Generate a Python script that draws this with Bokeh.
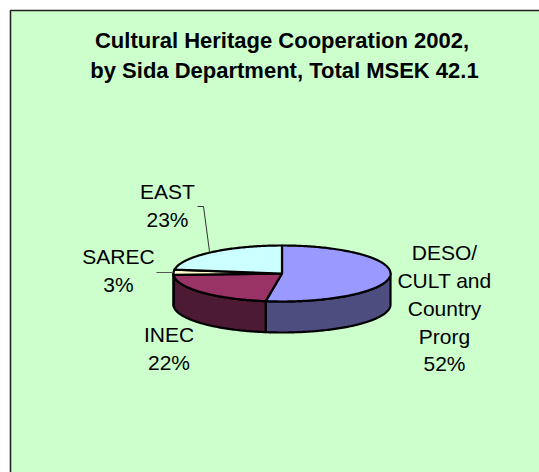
import numpy as np
from bokeh.plotting import figure
from bokeh.embed import file_html
from bokeh.resources import INLINE
from bokeh.core.properties import value

TITLE_LINES = ["Cultural Heritage Cooperation 2002,", "by Sida Department, Total MSEK 42.1"]
CATEGORIES = ["DESO/CULT and Country Prorg", "INEC", "SAREC", "EAST"]
VALUES = [52.4, 21.8, 3.0, 22.8]
TOP_COLORS = ["#9999FF", "#993366", "#FFFFCC", "#CCFFFF"]
SIDE_COLORS = ["#4D4D80", "#4D1A33", "#808066", "#668080"]
LABEL_LINES = [
    (["DESO/", "CULT and", "Country", "Prorg", "52%"], 444, [252, 280, 308, 336, 363]),
    (["INEC", "22%"], 168.5, [334, 362]),
    (["SAREC", "3%"], 118, [256, 284]),
    (["EAST", "23%"], 167, [191, 219]),
]

CX, CY, RX, RY, DEPTH = 281.5, 273, 108.5, 28, 31
FONT = value("Liberation Sans")

p = figure(width=539, height=472, x_range=(0, 539), y_range=(472, 0),
           toolbar_location=None, output_backend="svg", min_border=0)
p.xaxis.visible = False
p.yaxis.visible = False
p.grid.visible = False
p.outline_line_color = None
p.background_fill_color = "white"
p.border_fill_color = "white"

# chart area with its frame
p.quad(left=[10], right=[539], top=[10], bottom=[472], fill_color="#CCFFCC", line_color=None)
p.line([10, 10, 539], [472, 10, 10], line_color="#222222", line_width=1.6)


def rim(a0, a1):
    t = np.radians(np.linspace(a0, a1, max(2, int(abs(a1 - a0)) + 2)))
    return CX + RX * np.sin(t), CY - RY * np.cos(t)


angles = np.concatenate([[0], np.cumsum(VALUES) / np.sum(VALUES) * 360])

# visible outer wall (front half of the rim)
for a0, a1, col in zip(angles[:-1], angles[1:], SIDE_COLORS):
    lo, hi = max(a0, 90), min(a1, 270)
    if hi <= lo:
        continue
    x, y = rim(lo, hi)
    p.patch(np.concatenate([x, x[::-1]]), np.concatenate([y, y[::-1] + DEPTH]),
            fill_color=col, line_color="black", line_width=2.2, line_join="round")

# top faces
for a0, a1, col in zip(angles[:-1], angles[1:], TOP_COLORS):
    x, y = rim(a0, a1)
    p.patch(np.concatenate([[CX], x]), np.concatenate([[CY], y]),
            fill_color=col, line_color="black", line_width=2.2, line_join="round")

# leader lines
p.line([197, 203, 209], [206, 206, 251], line_color="#333333", line_width=1)
p.line([156, 173], [272, 272], line_color="#555555", line_width=1)

# texts
p.text(x=[281.5, 284], y=[39.5, 69.5], text=TITLE_LINES, text_font=FONT, text_font_size="22px",
       text_font_style="bold", text_color="black", text_align="center", text_baseline="middle")
for lines, lx, ly in LABEL_LINES:
    p.text(x=[lx] * len(lines), y=ly, text=lines, text_font=FONT, text_font_size="21px",
           text_color="black", text_align="center", text_baseline="middle")

open("out.html", "w").write(file_html(p, INLINE))
